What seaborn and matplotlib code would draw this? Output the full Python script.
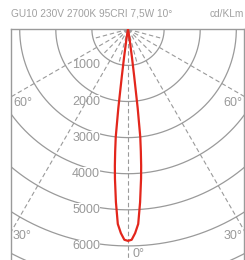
import numpy as np
import pandas as pd
import matplotlib
matplotlib.use("Agg")
import matplotlib.pyplot as plt
import seaborn as sns

# ---- data ----
title_text = "GU10 230V 2700K 95CRI 7,5W 10°"
unit_text = "cd/KLm"
angles_deg = [0, 1, 2, 3, 4, 5, 5.5, 6, 6.5, 7, 7.5, 8, 9, 10, 12, 15]
intensity = [5860, 5830, 5650, 5400, 4800, 4150, 3800, 3400, 3000, 2200, 1300, 800, 300, 100, 20, 0]
circle_values = [1000, 2000, 3000, 4000, 5000, 6000, 7000]
circle_labels = ["1000", "2000", "3000", "4000", "5000", "6000"]
major_angles = [0, 30, 60]
minor_angles = [15, 45, 75]
angle_labels = ["0°", "30°", "60°"]

sns.set_style("white")
plt.rcParams["font.family"] = ["Liberation Sans", "DejaVu Sans"]

GRID = "#9a9a9a"
TXT = "#999999"
RED = "#e3261c"

fig = plt.figure(figsize=(2.45, 2.60), dpi=100)
ax = fig.add_axes([11 / 245, 0.0, 233 / 245, (260 - 29.3) / 260])

xmin, xmax = -3241, 3213
ymax = 6390
ax.set_xlim(xmin, xmax)
ax.set_ylim(ymax, 0)
ax.set_aspect("equal")

# circles (lower half)
t = np.linspace(-np.pi / 2, np.pi / 2, 400)
for r in circle_values:
    ax.plot(r * np.sin(t), r * np.cos(t), color=GRID, lw=0.9, zorder=1)

# radial dashed lines
R = 9000
for a in major_angles:
    for s in ([1] if a == 0 else [-1, 1]):
        th = np.radians(s * a)
        ax.plot([0, R * np.sin(th)], [0, R * np.cos(th)], color=GRID, lw=0.8,
                ls=(0, (4, 2.5)), zorder=3)
for a in minor_angles:
    for s in [-1, 1]:
        th = np.radians(s * a)
        ax.plot([0, 1000 * np.sin(th)], [0, 1000 * np.cos(th)], color=GRID, lw=0.8,
                ls=(0, (4, 2.5)), zorder=3)

# circle labels
for r, lab in zip(circle_values, circle_labels):
    ax.text(-776, r, lab, ha="right", va="center", fontsize=9, color=TXT, zorder=2,
            bbox=dict(facecolor="white", edgecolor="none", pad=0.3))

# angle labels
ax.text(111, 6215, angle_labels[0], ha="left", va="center", fontsize=9, color=TXT)
ax.text(-3186, 5726, angle_labels[1], ha="left", va="center", fontsize=9, color=TXT)
ax.text(3158, 5726, angle_labels[1], ha="right", va="center", fontsize=9, color=TXT)
ax.text(-3186, 2028, angle_labels[2], ha="left", va="center", fontsize=9, color=TXT)
ax.text(3158, 2028, angle_labels[2], ha="right", va="center", fontsize=9, color=TXT)

# photometric curve
ang = np.array(angles_deg, dtype=float)
val = np.array(intensity, dtype=float)
full_ang = np.concatenate([-ang[::-1], ang[1:]])
full_val = np.concatenate([val[::-1], val[1:]])
th = np.radians(full_ang)
df = pd.DataFrame({"x": full_val * np.sin(th), "y": full_val * np.cos(th),
                   "order": np.arange(len(th))})
sns.lineplot(data=df, x="x", y="y", sort=False, estimator=None, color=RED,
             lw=1.6, ax=ax, zorder=4)

ax.set_xlabel("")
ax.set_ylabel("")
ax.set_xticks([])
ax.set_yticks([])
for side in ["left", "right", "top"]:
    ax.spines[side].set_visible(True)
    ax.spines[side].set_color(GRID)
    ax.spines[side].set_linewidth(1.0)
ax.spines["bottom"].set_visible(False)

fig.text(11 / 245, 1 - 14 / 260, title_text, ha="left", va="center", fontsize=7.3, color="#a0a0a0")
fig.text(244 / 245, 1 - 14 / 260, unit_text, ha="right", va="center", fontsize=7.3, color="#a0a0a0")

fig.savefig("out.png", dpi=100)
